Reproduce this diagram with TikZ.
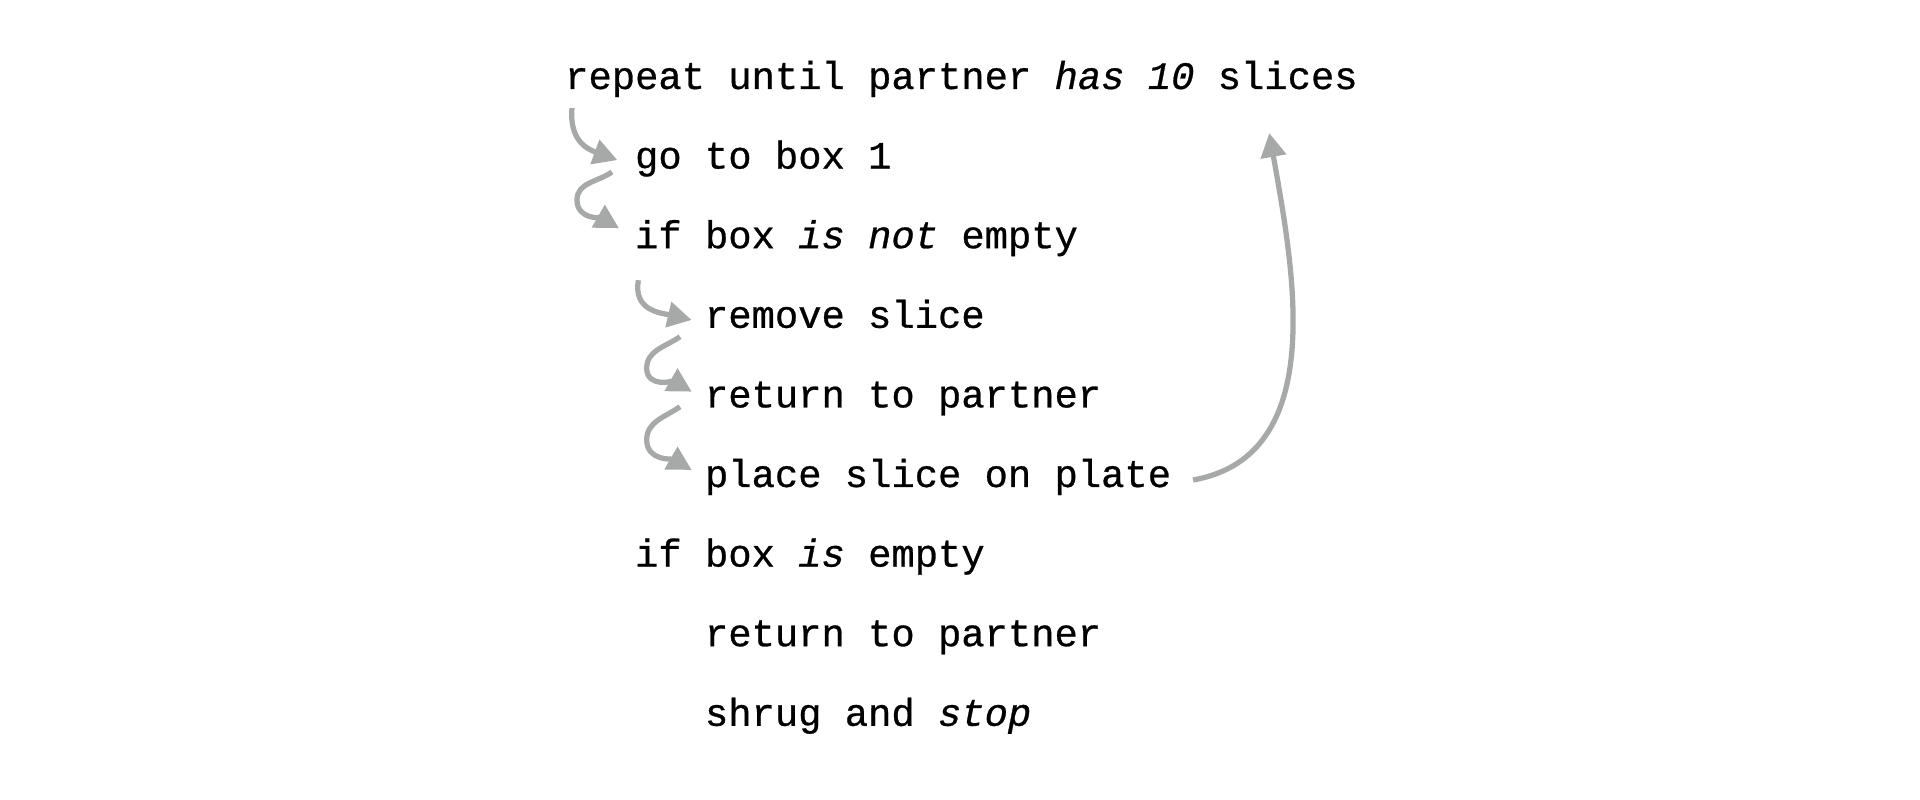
\documentclass[tikz,border=0pt]{standalone}
\usepackage{fontspec}
\newfontfamily\codefont{Liberation Mono}[FakeBold=0.7]
\usetikzlibrary{arrows.meta}
\definecolor{arrowgray}{RGB}{166,169,167}

\begin{document}
\begin{tikzpicture}[
    codeline/.style={anchor=base west, inner sep=0pt, font=\codefont\fontsize{11.05pt}{13pt}\selectfont},
    flow/.style={-{Triangle[length=0.24cm, width=0.25cm]}, line width=1.5pt, draw=arrowgray}]
    \useasboundingbox (0,0) rectangle (19.2,8);

    % Loop header
    \node[codeline] (repeat) at (5.645,7.11) {repeat until partner \textit{has 10} slices};

    % Loop body
    \node[codeline] (gobox) at (6.344,6.314) {go to box 1};
    \node[codeline] (ifnot) at (6.344,5.518) {if box \textit{is not} empty};
    \node[codeline] (remove) at (7.043,4.722) {remove slice};
    \node[codeline] (return) at (7.043,3.926) {return to partner};
    \node[codeline] (place) at (7.043,3.13) {place slice on plate};

    % Empty box branch
    \node[codeline] (ifempty) at (6.344,2.334) {if box \textit{is} empty};
    \node[codeline] (returnb) at (7.043,1.538) {return to partner};
    \node[codeline] (shrug) at (7.043,0.742) {shrug and \textit{stop}};

    % Step arrows
    \draw[flow] ([shift={(0.075,-0.19)}]repeat.base west) to[out=-95, in=160, looseness=1.2] ([shift={(-0.17,0.085)}]gobox.base west);
    \draw[flow] ([shift={(-0.224,-0.034)}]gobox.base west) to[out=215, in=90] ([shift={(-0.574,-0.314)}]gobox.base west)
        to[out=-90, in=150] ([shift={(-0.154,0.2)}]ifnot.base west);
    \draw[flow] ([shift={(0.04,-0.32)}]ifnot.base west) to[out=-100, in=167, looseness=1.2] ([shift={(-0.126,0.078)}]remove.base west);
    \draw[flow] ([shift={(-0.243,-0.089)}]remove.base west) to[out=215, in=90] ([shift={(-0.576,-0.405)}]remove.base west)
        to[out=-90, in=150] ([shift={(-0.126,0.157)}]return.base west);
    \draw[flow] ([shift={(-0.243,0.007)}]return.base west) to[out=215, in=90] ([shift={(-0.576,-0.326)}]return.base west)
        to[out=-90, in=150] ([shift={(-0.126,0.17)}]place.base west);

    % Back to the loop header
    \draw[flow] ([shift={(0.212,0.07)}]place.base east) to[out=10, in=-80] ([shift={(-0.89,-0.44)}]repeat.base east);
\end{tikzpicture}
\end{document}
